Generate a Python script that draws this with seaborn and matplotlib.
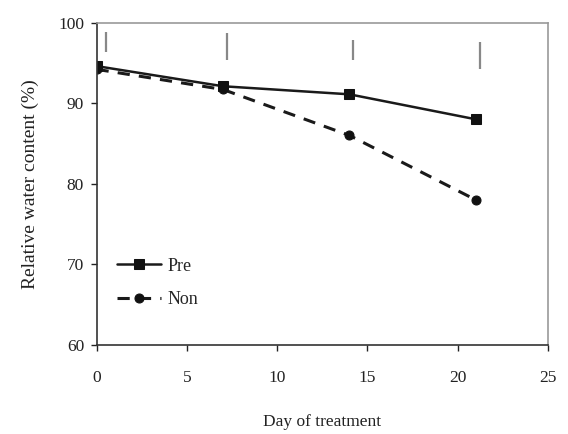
import matplotlib
matplotlib.use("Agg")
import matplotlib.pyplot as plt
import seaborn as sns
import pandas as pd

days = [0, 7, 14, 21]
pre_rwc = [94.6, 92.1, 91.1, 88.0]
non_rwc = [94.2, 91.7, 86.0, 78.0]

bar_x = [0.5, 7.2, 14.2, 21.25]
bar_low = [96.3, 95.4, 95.3, 94.3]
bar_high = [98.8, 98.7, 97.8, 97.6]

x_ticks = [0, 5, 10, 15, 20, 25]
y_ticks = [60, 70, 80, 90, 100]

sns.set_theme(style="ticks")
plt.rcParams['font.family'] = ['Liberation Serif', 'DejaVu Serif']

fig = plt.figure(figsize=(5.68, 4.34), dpi=100)
ax = fig.add_axes([0.170, 0.205, 0.795, 0.743])

pre_df = pd.DataFrame({"day": days, "rwc": pre_rwc})
non_df = pd.DataFrame({"day": days, "rwc": non_rwc})

sns.lineplot(data=pre_df, x="day", y="rwc", ax=ax, color="#1a1a1a", lw=1.8,
             marker="s", markersize=7.5, markeredgecolor="#111111",
             markerfacecolor="#111111", label="Pre")
sns.lineplot(data=non_df, x="day", y="rwc", ax=ax, color="#1a1a1a", lw=2.2,
             linestyle=(0, (4, 3)), marker="o", markersize=6.5,
             markeredgecolor="#111111", markerfacecolor="#111111", label="Non")

ax.vlines(bar_x, bar_low, bar_high, colors="#888888", lw=1.6)

ax.set_xlim(0, 25)
ax.set_ylim(60, 100)
ax.set_xticks(x_ticks)
ax.set_yticks(y_ticks)
ax.tick_params(axis="both", direction="out", length=4, width=1, labelsize=12.5,
               colors="#222222")
ax.tick_params(axis="x", pad=14)
ax.tick_params(axis="y", pad=5)
for side in ["left", "bottom"]:
    ax.spines[side].set_color("#333333")
    ax.spines[side].set_linewidth(1.2)
for side in ["top", "right"]:
    ax.spines[side].set_visible(True)
    ax.spines[side].set_color("#999999")
    ax.spines[side].set_linewidth(1.2)

ax.set_xlabel("Day of treatment", fontsize=12.5, color="#222222", labelpad=20)
ax.set_ylabel("Relative water content (%)", fontsize=14, color="#222222", labelpad=14)

leg = ax.legend(loc="lower left", bbox_to_anchor=(0.01, 0.065), frameon=False,
                fontsize=13, handlelength=2.4, handletextpad=0.4,
                labelspacing=0.9)

fig.savefig("out.png", dpi=100, facecolor="white")
